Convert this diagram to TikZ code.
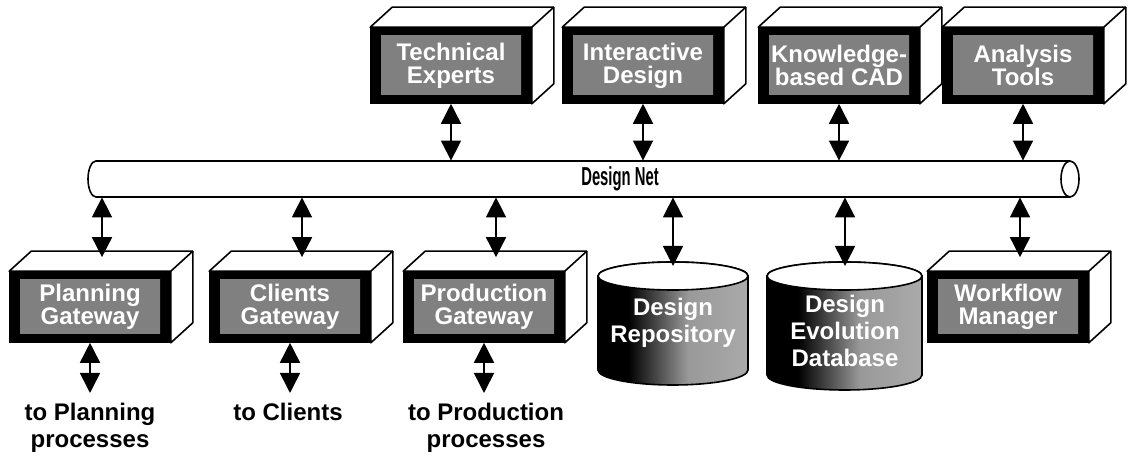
\documentclass[tikz,border=0pt]{standalone}
\usepackage{fontspec}
\setmainfont{Liberation Sans}
\newfontfamily\condfont[FakeStretch=0.57]{Liberation Sans}
\usetikzlibrary{arrows.meta, calc}

\pgfdeclareradialshading{glow}{\pgfpoint{0bp}{0bp}}{color(0bp)=(black!50); color(36bp)=(black!50); color(50bp)=(black); color(100bp)=(black)}
\pgfdeclarehorizontalshading{drumshade}{100bp}{color(0bp)=(black); color(35bp)=(black); color(55bp)=(black!40); color(100bp)=(black!25)}

\begin{document}
\begin{tikzpicture}[
    x=0.5pt, y=-0.5pt,
    box/.style={draw, thick, fill=black, minimum width=80pt, minimum height=35pt, inner sep=0pt, align=center, text=white,
        font=\bfseries\fontsize{12}{11.5}\selectfont,
        path picture={\shade[shading=glow] ([xshift=5pt,yshift=4pt]path picture bounding box.south west)
            rectangle ([xshift=-5pt,yshift=-4pt]path picture bounding box.north east);}},
    face/.style={draw, thick, fill=white, line join=round},
    drum/.style={draw, thick, shading=drumshade},
    drumtext/.style={align=center, text=white, font=\bfseries\fontsize{12}{13.5}\selectfont},
    dest/.style={anchor=north, align=center, inner sep=2pt, font=\bfseries\fontsize{12}{13.5}\selectfont},
    dbl/.style={{Triangle[length=10pt,width=10pt]}-{Triangle[length=10pt,width=10pt]}, line width=0.8pt}
]
\useasboundingbox (0,0) rectangle (1129,458);

% tools above the net
\node[box, minimum height=37.5pt] (tech) at (451,65.5) {Technical\\Experts};
\node[box, minimum height=37.5pt] (inter) at (643,65.5) {Interactive\\Design};
\node[box, minimum height=37.5pt] (kbcad) at (839,65.5) {Knowledge-\\based CAD};
\node[box, minimum height=37.5pt] (tool) at (1023,65.5) {Analysis\\Tools};

% gateways and manager below the net
\node[box] (plan) at (90,307) {Planning\\Gateway};
\node[box] (client) at (290,307) {Clients\\Gateway};
\node[box] (prod) at (484,307) {Production\\Gateway};
\node[box] (flow) at (1008,307) {Workflow\\Manager};

% top and side faces of the boxes
\foreach \n in {tech,inter,kbcad,tool,plan,client,prod,flow} {
  \draw[face] (\n.north west) -- ++(22,-20) -- ($(\n.north east)+(22,-20)$) -- ($(\n.south east)+(22,-20)$)
    -- (\n.south east) -- (\n.north east) -- cycle;
  \draw[thick] (\n.north east) -- ++(22,-20);
  \coordinate (\n-top) at ($(\n.north)+(12,-14)$);
}

% the net itself
\draw[thick, fill=white] (1070,161) -- (96,161) arc (-90:-270:8 and 18) -- (1070,197);
\draw[thick, fill=white] (1070,179) ellipse [x radius=9, y radius=18];
\node[font=\condfont\bfseries\fontsize{13}{15}\selectfont, minimum height=18pt, inner sep=0pt] (net) at (620,179) {Design Net};

% databases
\path[drum] (598,276) -- (598,370) arc (180:0:75 and 15) -- (748,276) arc (0:-180:75 and 14) -- cycle;
\draw[thick, fill=white] (673,276) ellipse [x radius=75, y radius=14];
\node[drumtext] (repo) at (673,323) {Design\\Repository};
\coordinate (repo-top) at (673,266);

\path[drum] (767,276) -- (767,375) arc (180:0:77.5 and 15) -- (922,276) arc (0:-180:77.5 and 14) -- cycle;
\draw[thick, fill=white] (844.5,276) ellipse [x radius=77.5, y radius=14];
\node[drumtext] (evol) at (845,331) {Design\\Evolution\\Database};
\coordinate (evol-top) at (845,266);

% outside destinations
\node[dest] (plan-out) at (90,399) {to Planning\\processes};
\node[dest] (client-out) at (288,399) {to Clients};
\node[dest] (prod-out) at (486,399) {to Production\\processes};

% arrows to and from the net
\foreach \n in {tech,inter,kbcad,tool}
  \draw[dbl] (\n.south) -- (\n.south |- net.north);
\foreach \n in {plan,client,prod,repo,evol,flow}
  \draw[dbl] (net.south -| \n-top) -- (\n-top);
\foreach \n in {plan,client,prod}
  \draw[dbl, shorten >=3pt] (\n.south) -- (\n.south |- \n-out.north);

\end{tikzpicture}
\end{document}
